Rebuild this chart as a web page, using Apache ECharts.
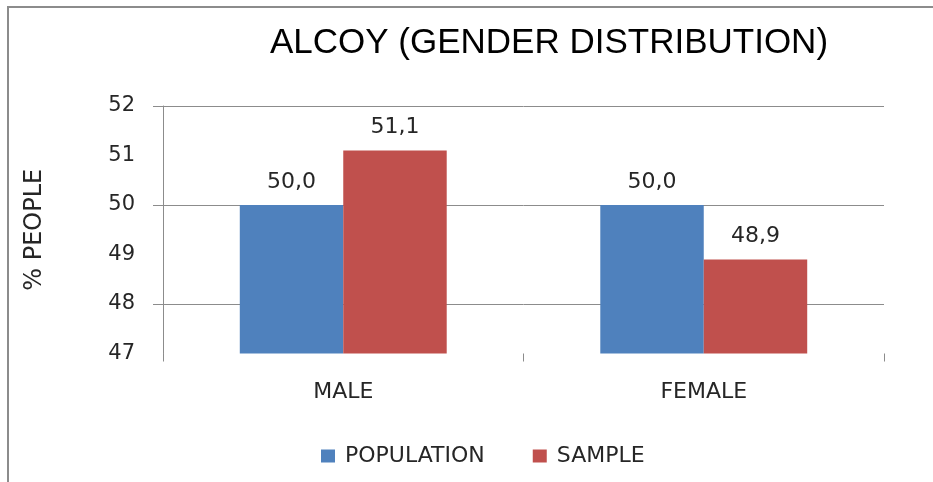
<!DOCTYPE html>
<html>
<head>
<meta charset="utf-8">
<title>Alcoy gender distribution</title>
<script src="https://cdn.jsdelivr.net/npm/echarts@6/dist/echarts.min.js"></script>
<style>
  html, body { margin: 0; padding: 0; background: #fff; }
  #chart { width: 933px; height: 482px; }
</style>
</head>
<body>
<div id="chart"></div>
<script>
const categories = ['MALE', 'FEMALE'];
const population = [50.0, 50.0];
const sample = [51.1, 48.9];
const yTicks = [47, 52, 1];

const chart = echarts.init(document.getElementById('chart'));
const font = 'DejaVu Sans';
const textColor = '#262626';
const lineColor = '#8c8c8c';

// values use a comma as decimal separator
const fmt = (p) => p.value.toFixed(1).replace('.', ',');

chart.setOption({
  animation: false,
  textStyle: { fontFamily: font },
  graphic: [{
    type: 'rect',
    shape: { x: 8, y: 7, width: 2000, height: 2000 },
    style: { fill: 'none', stroke: lineColor, lineWidth: 2 },
    silent: true
  }],
  title: {
    text: 'ALCOY (GENDER DISTRIBUTION)',
    left: 544,
    top: 21,
    textAlign: 'center',
    textStyle: { fontFamily: 'Liberation Sans', fontSize: 35, fontWeight: 'normal', color: '#000' }
  },
  legend: {
    data: ['POPULATION', 'SAMPLE'],
    left: 316,
    top: 440,
    itemWidth: 14,
    itemHeight: 13,
    itemGap: 48,
    icon: 'rect',
    textStyle: { fontSize: 22, color: textColor, padding: [0, 0, 0, 5] }
  },
  grid: [
    { left: 163, right: 49, top: 106, bottom: 128.5 },
    // helper grid, only used for the y ticks at 48/50/52
    { left: 163, right: 49, top: 106, height: 198 }
  ],
  xAxis: [{
    type: 'category',
    data: categories,
    axisLine: { show: false },
    axisTick: { show: true, length: 8, lineStyle: { color: lineColor } },
    axisLabel: { fontSize: 22, color: textColor, margin: 28 }
  }, {
    gridIndex: 1,
    type: 'category',
    data: categories,
    show: false
  }],
  yAxis: [{
    type: 'value',
    min: yTicks[0],
    max: yTicks[1],
    interval: yTicks[2],
    name: '% PEOPLE',
    nameLocation: 'middle',
    nameGap: 116,
    nameTextStyle: { fontSize: 24, color: textColor },
    axisLine: { show: true, lineStyle: { color: lineColor } },
    axisTick: { show: false },
    axisLabel: { fontSize: 21, color: textColor, margin: 28 },
    splitLine: { show: true, lineStyle: { color: ['rgba(0,0,0,0)', lineColor] } }
  }, {
    gridIndex: 1,
    type: 'value',
    min: 48,
    max: 52,
    interval: 2,
    axisLine: { show: false },
    axisTick: { show: true, length: 10, lineStyle: { color: lineColor } },
    axisLabel: { show: false },
    splitLine: { show: false }
  }],
  series: [{
    name: 'POPULATION',
    type: 'bar',
    data: population,
    barGap: 0,
    barCategoryGap: '42.6%',
    itemStyle: { color: '#4f81bd' },
    label: { show: true, position: 'top', distance: 12, fontSize: 22, color: textColor, formatter: fmt }
  }, {
    name: 'SAMPLE',
    type: 'bar',
    data: sample,
    barGap: 0,
    barCategoryGap: '42.6%',
    itemStyle: { color: '#c0504d' },
    label: { show: true, position: 'top', distance: 12, fontSize: 22, color: textColor, formatter: fmt }
  }]
});
</script>
</body>
</html>
